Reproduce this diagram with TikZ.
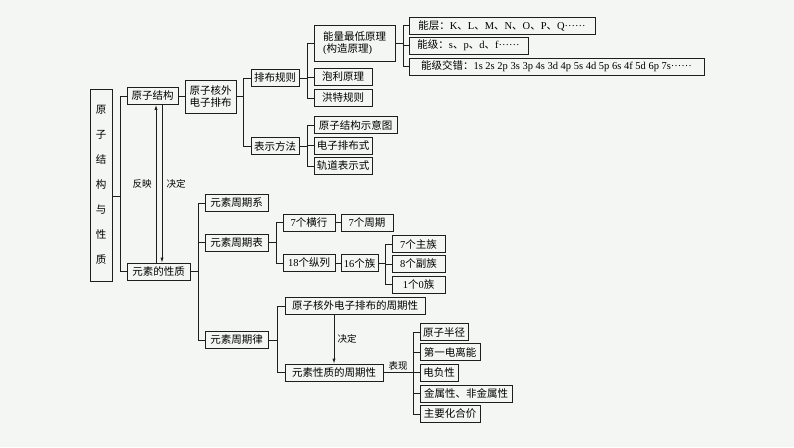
\documentclass[tikz,border=0pt]{standalone}
\usepackage{fontspec}
\setmainfont{Liberation Serif}
\newfontfamily\cjk{Noto Sans CJK SC}
\usetikzlibrary{arrows.meta,shadows,calc}
\definecolor{bg}{RGB}{243,246,243}
\definecolor{ln}{RGB}{30,30,30}
\newcommand\la[1]{{\rmfamily #1}}
\newcommand\mydots{{\rmfamily ······}}
\newcommand\fork[3]{%
  \draw[conn] (#1.east) -- (#1.east -| #2);
  \foreach \c in {#3}{\draw[conn] (\c.west) -- (\c.west -| #2);}%
}
\begin{document}
\begin{tikzpicture}[x=1pt,y=-1pt,
  box/.style={draw=ln, line width=0.8pt, fill=bg, inner xsep=1pt, inner ysep=1pt,
    minimum height=17pt, font=\cjk\fontsize{10.5}{12}\selectfont, text=black,
    drop shadow={shadow xshift=0.9pt, shadow yshift=-0.9pt, opacity=0.8, fill=black!70}},
  conn/.style={draw=ln, line width=0.8pt, line cap=rect},
  arr/.style={draw=ln, line width=0.8pt, -{Latex[length=5pt,width=3.2pt]}},
  lbl/.style={font=\cjk\fontsize{9.5}{11}\selectfont, inner sep=0pt, text=black}]
\fill[bg] (0,0) rectangle (794,447);

% left column
\node[box, minimum width=22pt, minimum height=192pt, align=center,
  font=\cjk\fontsize{10.5}{25}\selectfont] (L) at (101,185) {原\\子\\结\\构\\与\\性\\质};
\node[box, minimum width=51pt] (a1) at (152.5,96) {原子结构};
\node[box, minimum width=63pt] (a2) at (158.5,271.5) {元素的性质};

% upper part
\node[box, minimum width=51pt, minimum height=33pt, align=center] (b1) at (210.5,96.5) {原子核外\\电子排布};
\node[box, minimum width=48pt] (c1) at (275,78) {排布规则};
\node[box, minimum width=48pt] (c2) at (275,146) {表示方法};
\node[box, minimum width=81pt, minimum height=36pt, align=left] (d1) at (354.5,43) {能量最低原理\\\la{(}构造原理\la{)}};
\node[box, minimum width=58pt] (d2) at (343,77) {泡利原理};
\node[box, minimum width=58pt] (d3) at (343,98) {洪特规则};
\node[box, minimum width=83pt] (d4) at (355.5,125) {原子结构示意图};
\node[box, minimum width=58pt] (d5) at (343,145.5) {电子排布式};
\node[box, minimum width=58pt] (d6) at (343,166) {轨道表示式};
\node[box, minimum width=186pt] (e1) at (502,25.5) {能层：\la{K}、\la{L}、\la{M}、\la{N}、\la{O}、\la{P}、\la{Q}\mydots};
\node[box, minimum width=119pt] (e2) at (468.5,45.5) {能级：\la{s}、\la{p}、\la{d}、\la{f}\mydots};
\node[box, minimum width=295pt] (e3) at (556.5,66.5) {能级交错：\la{1s 2s 2p 3s 3p 4s 3d 4p 5s 4d 5p 6s 4f 5d 6p 7s}\mydots};

% lower part
\node[box, minimum width=63pt] (f1) at (236.5,203) {元素周期系};
\node[box, minimum width=63pt] (f2) at (236.5,242.5) {元素周期表};
\node[box, minimum width=63pt] (f3) at (236.5,340) {元素周期律};
\node[box, minimum width=52pt] (g1) at (309,222.5) {\la{7}个横行};
\node[box, minimum width=52pt] (g2) at (367,222.5) {\la{7}个周期};
\node[box, minimum width=52pt] (g3) at (309,263) {\la{18}个纵列};
\node[box, minimum width=37pt] (g4) at (359.5,263) {\la{16}个族};
\node[box, minimum width=53pt] (h1) at (418.5,244) {\la{7}个主族};
\node[box, minimum width=53pt] (h2) at (418.5,264) {\la{8}个副族};
\node[box, minimum width=53pt] (h3) at (418.5,284.5) {\la{1}个\la{0}族};
\node[box, minimum width=140pt] (i1) at (355,306) {原子核外电子排布的周期性};
\node[box, minimum width=98pt] (i2) at (334,372.5) {元素性质的周期性};
\node[box, minimum width=48pt] (j1) at (444,332) {原子半径};
\node[box, minimum width=60pt] (j2) at (450,352) {第一电离能};
\node[box, minimum width=38pt] (j3) at (439,372.5) {电负性};
\node[box, minimum width=92pt] (j4) at (466,393.5) {金属性、非金属性};
\node[box, minimum width=60pt] (j5) at (450,414) {主要化合价};

% branch coordinates
\coordinate (kL) at (120,196);
\coordinate (kb) at (243,0);
\coordinate (kc) at (307,0);
\coordinate (kd) at (403,0);
\coordinate (ka) at (198,0);
\coordinate (kf2) at (276,0);
\coordinate (kg) at (385,0);
\coordinate (kf3) at (277,0);
\coordinate (ki) at (413,0);
\coordinate (xu) at (156,0);
\coordinate (xd) at (162,0);

% connectors
\draw[conn] (L.east |- kL) -- (kL);
\draw[conn] (a1.west) -- (a1.west -| kL) -- (a2.west -| kL) -- (a2.west);
\draw[conn] (a1.east) -- (a1.east -| b1.west);

\fork{b1}{kb}{c1,c2}
\draw[conn] (c1.west -| kb) -- (c2.west -| kb);
\fork{c1}{kc}{d1,d2,d3}
\draw[conn] (d1.west -| kc) -- (d3.west -| kc);
\fork{c2}{kc}{d4,d5,d6}
\draw[conn] (d4.west -| kc) -- (d6.west -| kc);
\fork{d1}{kd}{e1,e2,e3}
\draw[conn] (e1.west -| kd) -- (e3.west -| kd);

\fork{a2}{ka}{f1,f2,f3}
\draw[conn] (f1.west -| ka) -- (f3.west -| ka);
\fork{f2}{kf2}{g1,g3}
\draw[conn] (g1.west -| kf2) -- (g3.west -| kf2);
\draw[conn] (g1.east) -- (g1.east -| g2.west);
\draw[conn] (g3.east) -- (g3.east -| g4.west);
\fork{g4}{kg}{h1,h2,h3}
\draw[conn] (h1.west -| kg) -- (h3.west -| kg);
\fork{f3}{kf3}{i1,i2}
\draw[conn] (i1.west -| kf3) -- (i2.west -| kf3);
\fork{i2}{ki}{j1,j2,j3,j4,j5}
\draw[conn] (j1.west -| ki) -- (j5.west -| ki);

% arrows
\draw[arr] (a2.north -| xu) -- (a1.south -| xu);
\draw[arr] (a1.south -| xd) -- (a2.north -| xd);
\draw[arr] (i1.south -| i2.north) -- (i2.north);

% labels
\node[lbl] (t1) at (142,184) {反映};
\node[lbl] (t2) at (176,184) {决定};
\node[lbl] (t3) at (347,339) {决定};
\node[lbl] (t4) at (398,366) {表现};
\end{tikzpicture}
\end{document}
